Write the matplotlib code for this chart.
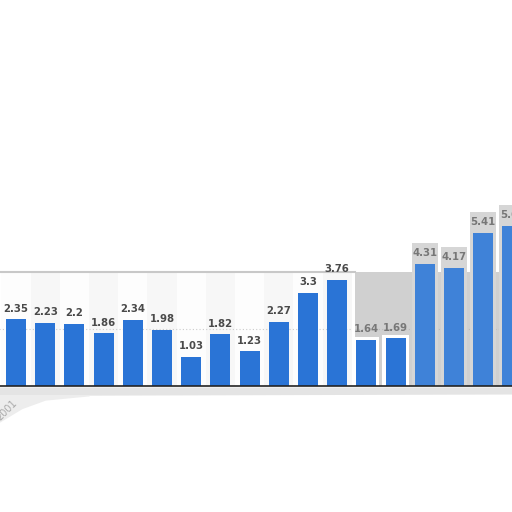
import matplotlib
matplotlib.use('Agg')
import matplotlib.pyplot as plt
import numpy as np

values = [2.35, 2.23, 2.2, 1.86, 2.34, 1.98, 1.03, 1.82, 1.23, 2.27, 3.3, 3.76,
          1.64, 1.69, 4.31, 4.17, 5.41, 5.66]
labels = ['2.35', '2.23', '2.2', '1.86', '2.34', '1.98', '1.03', '1.82', '1.23',
          '2.27', '3.3', '3.76', '1.64', '1.69', '4.31', '4.17', '5.41', '5.66']
first_year = '2001'

BLUE = '#2a74d6'
PX = 28.3  # pixels per unit

fig = plt.figure(figsize=(5.12, 5.12), dpi=100)
ax = fig.add_axes([0, 0, 1, 1])
x = np.arange(len(values))
ax.set_xlim(-0.55, 16.99)
ax.set_ylim(-126 / PX, 386 / PX)
ax.axis('off')

top = (386 - 272) / PX
# plot background: faint vertical bands, gray region on the right
for i in x[:12]:
    ax.axvspan(i - 0.5, i + 0.5, ymin=126 / 512, ymax=(126 + 114) / 512,
               color='#f7f7f7' if i % 2 else '#fdfdfd', zorder=0, lw=0)
ax.fill_between([11.6, 17.5], 0, top, color='#d0d0d0', zorder=0, lw=0)
ax.plot([-0.6, 11.6], [top, top], color='#c8c8c8', lw=1.5, zorder=1)
ax.plot([-0.6, 11.5], [2, 2], color='#cccccc', lw=0.8, ls=(0, (1, 2)), zorder=1)
ax.plot([11.6, 17.5], [2, 2], color='#bbbbbb', lw=0.8, ls=(0, (1, 2)), zorder=1)

# halos behind the right bars
ax.bar(x[12:14], np.array(values[12:14]) + 0.1, width=0.9, color='white', zorder=1.5, lw=0)
ax.bar(x[14:], np.array(values[14:]) + 0.75, width=0.9, color='#d6d6d6', zorder=1.5, lw=0)
bars = ax.bar(x, values, width=0.685, color=BLUE, zorder=2, lw=0)
for b in bars[14:]:
    b.set_facecolor('#3f82d8')

for i, (v, t) in enumerate(zip(values, labels)):
    ax.text(i, v + 0.2, t, ha='center', va='bottom', fontsize=7.3,
            fontweight='bold', color='#4a4a4a' if i < 12 else '#777777', zorder=3)

# baseline and shadow
ax.plot([-0.6, 17.5], [0, 0], color='#222222', lw=1.2, zorder=3)
ax.fill_between([-0.6, 17.5], [-0.35, -0.3], -0.05, color='#e4e4e4', zorder=0, lw=0)
ax.fill_between([-0.6, 0.2, 1.0, 2.5], [-1.3, -0.8, -0.5, -0.35], -0.3,
                color='#ededed', zorder=0, lw=0)
ax.text(-0.3, -0.85, first_year, rotation=45, ha='center', va='center',
        fontsize=7, color='#aaaaaa')

plt.savefig('out.png', dpi=100)
